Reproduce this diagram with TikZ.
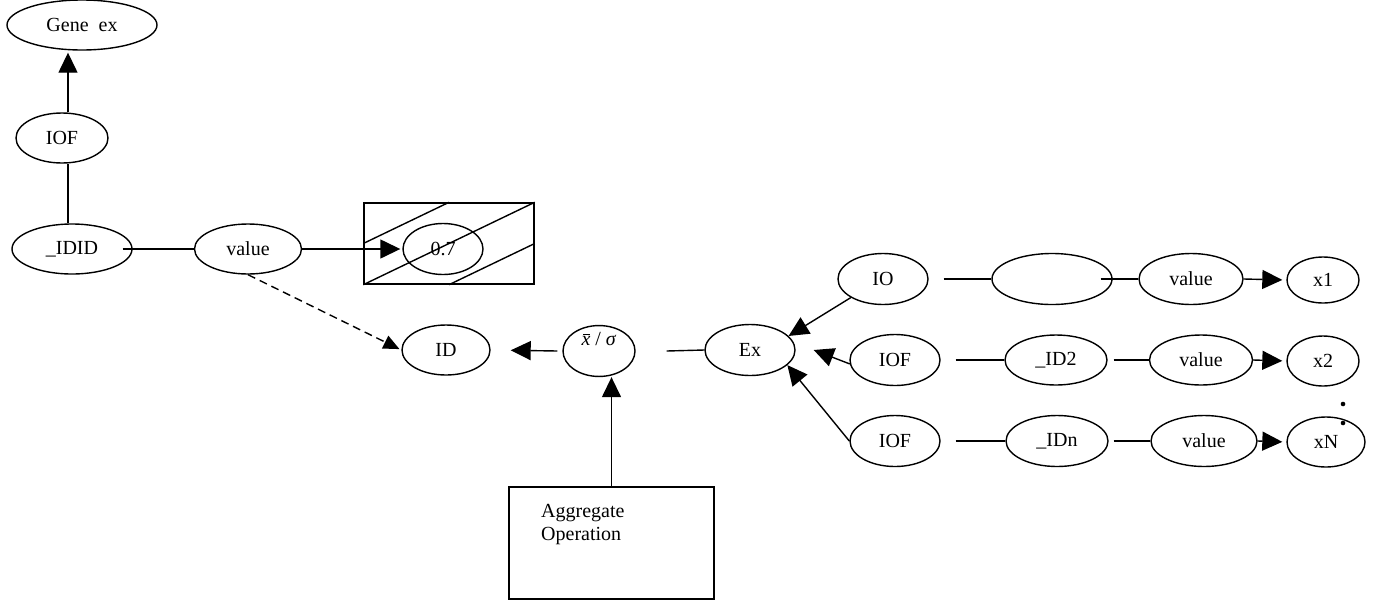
\documentclass[tikz,border=0pt]{standalone}
\usepackage{fontspec}
\setmainfont{Liberation Serif}
\usetikzlibrary{shapes.geometric,arrows.meta}
% mean symbol: italic x with a ruled bar above it
\newcommand{\xmean}{\makebox[0pt][l]{\hspace{1.5pt}\raisebox{10.5pt}{\rule{7pt}{0.7pt}}}\textit{x}}
\begin{document}
\begin{tikzpicture}[x=1pt,y=-1pt,
  every node/.style={font=\fontsize{20}{23}\selectfont},
  oval/.style 2 args={draw, ellipse, line width=1.4pt, inner sep=0pt,
    minimum width=#1, minimum height=#2},
  boxed/.style 2 args={draw, rectangle, line width=1.4pt, inner sep=0pt,
    minimum width=#1, minimum height=#2},
  ln/.style={line width=1.4pt},
  arr/.style={line width=1.4pt, -{Triangle[length=20pt,width=19pt]}},
  dsh/.style={line width=1.4pt, dash pattern=on 8pt off 5pt,
    -{Triangle[length=16pt,width=14pt]}}
]
\useasboundingbox (0,0) rectangle (1375,600);

% left branch
\node[oval={150}{50}] (gene) at (82,25) {Gene\ \ ex};
\node[oval={92}{50}]  (iofa) at (62,138) {IOF};
\node[oval={120}{50}] (idid) at (72,249) {\_IDID};
\node[oval={107}{50}] (val0) at (248,249) {value};

% hatched value box
\node[boxed={170}{81}] (hbox) at (449,243.5) {};
\draw[ln] (hbox.west) -- (hbox.north);
\draw[ln] (hbox.south west) -- (hbox.north east);
\draw[ln] (hbox.south) -- (hbox.east);
\node[oval={80}{51}] (seven) at (443,249) {0.7};

% aggregation row
\node[oval={88}{50}] (id) at (446,350) {ID};
% the formula sits high inside its ellipse
\node[oval={72}{50}, text height=12pt, text depth=24pt] (sig) at (599,351) {\xmean\ /\ \textit{σ}};
\node[boxed={205}{112}] (agg) at (611.5,543) {};
\node[anchor=north west, inner sep=0pt, align=left] (aggtxt) at (541,504.5) {Aggregate\\Operation};
\node[oval={90}{51}] (ex) at (750,350) {Ex};

% right branches
\node[oval={90}{51}]  (io)    at (883,279)  {IO};
\node[oval={120}{51}] (blank) at (1052,279) {};
\node[oval={104}{51}] (vala)  at (1191,279) {value};
\node[oval={72}{46}]  (xa)    at (1323,280) {x1};

\node[oval={90}{51}]  (iofb)  at (895,360)  {IOF};
\node[oval={102}{50}] (idtwo) at (1056,360) {\_ID2};
\node[oval={103}{50}] (valb)  at (1201,360) {value};
\node[oval={72}{50}]  (xb)    at (1323,361) {x2};

\node[oval={90}{51}]  (iofc)  at (895,441)  {IOF};
\node[oval={102}{51}] (idn)   at (1057,441) {\_IDn};
\node[oval={106}{51}] (valc)  at (1204,441) {value};
\node[oval={78}{50}]  (xn)    at (1326,442) {xN};

\fill (1343,404) circle (2.3);
\fill (1343,423) circle (2.3);

% connectors, left
\draw[arr, shorten >=2pt] ([xshift=6pt]iofa.north) -- ([xshift=6pt]iofa.north |- gene.south);
\draw[ln] ([xshift=6pt]iofa.south) -- ([xshift=6pt]iofa.south |- idid.north);
\draw[ln] ([xshift=-10pt]idid.east) -- (val0.west);
\draw[arr, shorten >=2pt] (val0.east) -- (seven.west);
\draw[dsh, shorten >=2pt] (val0.south) -- (id.west);

% connectors, middle
\draw[arr, shorten >=20pt] ([xshift=-5pt]sig.west) -- (id.east);
\draw[arr] (agg.north) -- (agg.north |- sig.south);
\draw[ln] ([xshift=31pt]sig.east) -- (ex.west);

% connectors into Ex
\draw[arr] (io.210) -- (ex.20);
\draw[arr] (iofb.185) -- ([xshift=18pt]ex.east);
\draw[arr] (iofc.west) -- (ex.-22);

% connectors, right rows
\draw[ln] ([xshift=15pt]io.east) -- (blank.west);
\draw[ln] ([xshift=-12pt]blank.east) -- (vala.west);
\draw[arr, shorten >=4pt] (vala.east) -- (xa.west);

\draw[ln] ([xshift=15pt]iofb.east) -- (idtwo.west);
\draw[ln] ([xshift=6pt]idtwo.east) -- (valb.west);
\draw[arr, shorten >=4pt] (valb.east) -- (xb.west);

\draw[ln] ([xshift=15pt]iofc.east) -- (idn.west);
\draw[ln] ([xshift=5pt]idn.east) -- (valc.west);
\draw[arr, shorten >=4pt] (valc.east) -- (xn.west);
\end{tikzpicture}
\end{document}
